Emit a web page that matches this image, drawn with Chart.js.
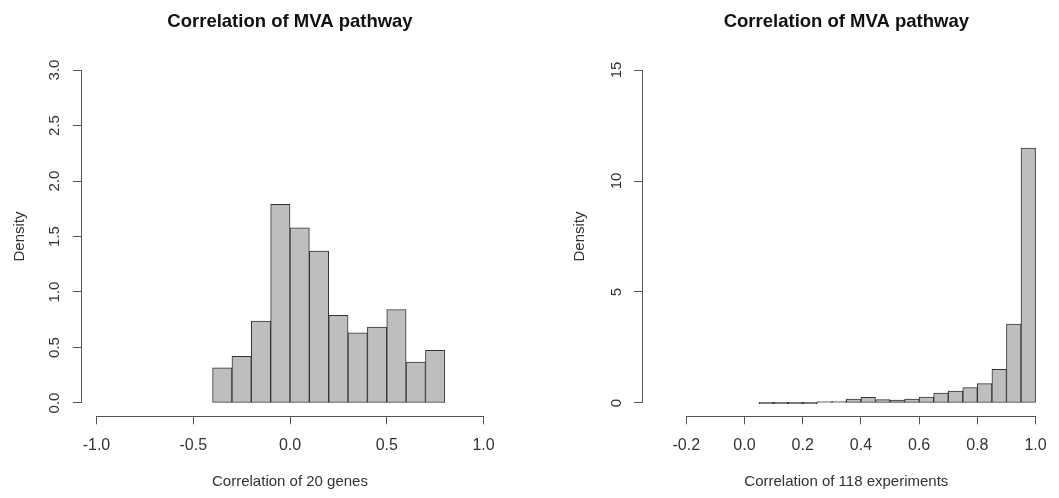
<!DOCTYPE html>
<html><head><meta charset="utf-8">
<script src="https://cdn.jsdelivr.net/npm/chart.js@4.4.1/dist/chart.umd.min.js"></script>
<style>
html,body{margin:0;padding:0;background:#fff;width:1059px;height:498px;overflow:hidden;}
canvas{position:absolute;top:0;}
#c1{left:0;}
#c2{left:530px;}
</style></head><body>
<canvas id="c1" width="530" height="498"></canvas>
<canvas id="c2" width="529" height="498"></canvas>
<script>
const chartTitle = "Correlation of MVA pathway";
const yTitle = "Density";

// Left histogram: correlation of 20 genes (bin width 0.1)
const geneBinCenters = [-0.35,-0.25,-0.15,-0.05,0.05,0.15,0.25,0.35,0.45,0.55,0.65,0.75];
const geneDensity    = [0.316,0.421,0.737,1.789,1.579,1.368,0.789,0.632,0.684,0.842,0.368,0.474];
const geneXTicks      = [-1.0,-0.5,0.0,0.5,1.0];
const geneXTickLabels = ["-1.0","-0.5","0.0","0.5","1.0"];
const geneYTicks      = [0,0.5,1,1.5,2,2.5,3];
const geneYTickLabels = ["0.0","0.5","1.0","1.5","2.0","2.5","3.0"];
const geneXTitle = "Correlation of 20 genes";

// Right histogram: correlation of 118 experiments (bin width 0.05)
const expBinCenters = [0.075,0.125,0.175,0.225,0.275,0.325,0.375,0.425,0.475,0.525,0.575,0.625,0.675,0.725,0.775,0.825,0.875,0.925,0.975];
const expDensity    = [0,0,0,0,0.04,0.07,0.18,0.25,0.15,0.135,0.18,0.27,0.45,0.54,0.69,0.87,1.52,3.56,11.48];
const expXTicks      = [-0.2,0.0,0.2,0.4,0.6,0.8,1.0];
const expXTickLabels = ["-0.2","0.0","0.2","0.4","0.6","0.8","1.0"];
const expYTicks      = [0,5,10,15];
const expYTickLabels = ["0","5","10","15"];
const expXTitle = "Correlation of 118 experiments";

const FONT = "'Liberation Sans', Arial, Helvetica, sans-serif";
const AXIS_COLOR = '#555';
const TEXT_COLOR = '#333';

const axisLinePlugin = {
  id: 'rAxisLines',
  afterDraw(chart) {
    const ctx = chart.ctx, a = chart.chartArea;
    const xs = chart.scales.x, ys = chart.scales.y;
    ctx.save();
    ctx.strokeStyle = AXIS_COLOR;
    ctx.lineWidth = 1;
    ctx.beginPath();
    const xt = xs.ticks;
    const yb = Math.round(a.bottom) + 0.5;
    ctx.moveTo(xs.getPixelForValue(xt[0].value), yb);
    ctx.lineTo(xs.getPixelForValue(xt[xt.length-1].value), yb);
    const yt = ys.ticks;
    const xl = Math.round(a.left) + 0.5;
    ctx.moveTo(xl, ys.getPixelForValue(yt[0].value));
    ctx.lineTo(xl, ys.getPixelForValue(yt[yt.length-1].value));
    ctx.stroke();
    ctx.restore();
  }
};

function makeHist(canvasId, o) {
  return new Chart(document.getElementById(canvasId), {
    type: 'bar',
    data: {
      datasets: [{
        data: o.centers.map((x, i) => ({x: x, y: o.values[i]})),
        backgroundColor: '#bebebe',
        borderColor: '#333',
        borderWidth: 1,
        borderSkipped: false,
        barPercentage: 1,
        categoryPercentage: 1,
        minBarLength: 1.5
      }]
    },
    options: {
      responsive: false,
      animation: false,
      events: [],
      layout: { padding: { left: 0, right: o.padRight, top: 0, bottom: 0 } },
      plugins: {
        legend: { display: false },
        tooltip: { enabled: false },
        title: {
          display: true,
          text: chartTitle,
          fullSize: false,
          color: '#111',
          font: { family: FONT, size: 18.5, weight: 'bold' },
          padding: { top: 10.9, bottom: 23.6 }
        }
      },
      scales: {
        x: {
          type: 'linear',
          min: o.xMin, max: o.xMax,
          offset: false,
          afterBuildTicks: s => { s.ticks = o.xTicks.map(v => ({value: v})); },
          afterFit: s => { s.height = 81.7; },
          grid: { display: true, offset: false, drawOnChartArea: false, drawTicks: true, tickLength: 8, color: AXIS_COLOR, lineWidth: 1 },
          border: { display: false },
          ticks: {
            color: TEXT_COLOR, font: { family: FONT, size: 16 }, padding: 12,
            maxRotation: 0, minRotation: 0, autoSkip: false,
            callback: (v, i) => o.xTickLabels[i]
          },
          title: { display: true, text: o.xTitle, color: TEXT_COLOR, font: { family: FONT, size: 15 }, padding: { top: 0, bottom: 7.3 } }
        },
        y: {
          type: 'linear',
          min: o.yMin, max: o.yMax,
          afterBuildTicks: s => { s.ticks = o.yTicks.map(v => ({value: v})); },
          afterFit: s => { s.width = o.yWidth; },
          grid: { display: true, drawOnChartArea: false, drawTicks: true, tickLength: 8, color: AXIS_COLOR, lineWidth: 1 },
          border: { display: false },
          ticks: {
            color: TEXT_COLOR, font: { family: FONT, size: 15 }, padding: o.yTickPad,
            minRotation: 90, maxRotation: 90, crossAlign: 'center', autoSkip: false,
            callback: (v, i) => o.yTickLabels[i]
          },
          title: { display: true, text: yTitle, color: TEXT_COLOR, font: { family: FONT, size: 15 }, padding: { top: o.yTitlePad, bottom: 0 } }
        }
      }
    },
    plugins: [axisLinePlugin]
  });
}

makeHist('c1', {
  centers: geneBinCenters, values: geneDensity,
  xMin: -1.08, xMax: 1.08, yMin: -0.12, yMax: 3.12,
  xTicks: geneXTicks, xTickLabels: geneXTickLabels,
  yTicks: geneYTicks, yTickLabels: geneYTickLabels,
  xTitle: geneXTitle,
  yWidth: 81, padRight: 31, yTickPad: 7.6, yTitlePad: 11
});

makeHist('c2', {
  centers: expBinCenters, values: expDensity,
  xMin: -0.352, xMax: 1.052, yMin: -0.6, yMax: 15.6,
  xTicks: expXTicks, xTickLabels: expXTickLabels,
  yTicks: expYTicks, yTickLabels: expYTickLabels,
  xTitle: expXTitle,
  yWidth: 112, padRight: 0, yTickPad: 9, yTitlePad: 41
});
</script>
</body></html>
